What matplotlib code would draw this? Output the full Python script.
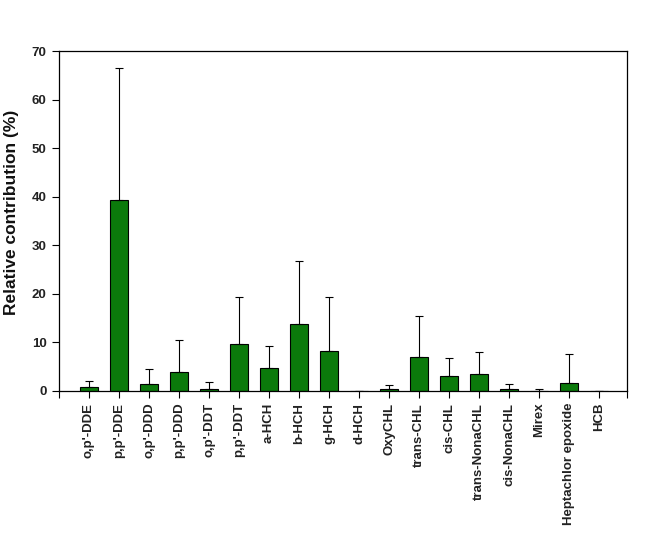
import numpy as np
import matplotlib
matplotlib.use("Agg")
import matplotlib.pyplot as plt

compounds = ["o,p'-DDE", "p,p'-DDE", "o,p'-DDD", "p,p'-DDD", "o,p'-DDT", "p,p'-DDT",
             "a-HCH", "b-HCH", "g-HCH", "d-HCH", "OxyCHL", "trans-CHL", "cis-CHL",
             "trans-NonaCHL", "cis-NonaCHL", "Mirex", "Heptachlor epoxide", "HCB"]
mean_pct = [0.8, 39.3, 1.45, 3.9, 0.35, 9.6, 4.7, 13.8, 8.2, 0.0, 0.35, 6.9, 3.1,
            3.5, 0.35, 0.05, 1.7, 0.0]
sd_pct = [1.25, 27.2, 3.05, 6.7, 1.45, 9.8, 4.6, 13.0, 11.2, 0.0, 0.8, 8.5, 3.6,
          4.5, 1.1, 0.3, 5.85, 0.0]
yticks = [0, 10, 20, 30, 40, 50, 60, 70]

plt.rcParams["font.family"] = ["Liberation Sans", "DejaVu Sans"]
fig = plt.figure(figsize=(6.54, 5.41), dpi=100)
ax = fig.add_axes([0.0902, 0.2773, 0.8685, 0.6284])

x = np.arange(len(compounds))
err = [np.zeros(len(sd_pct)), sd_pct]
ax.bar(x, mean_pct, width=0.6, color="#0b7a0b", edgecolor="black", linewidth=0.8, zorder=2)
ax.errorbar(x, mean_pct, yerr=err, fmt="none", ecolor="black", elinewidth=0.8,
            capsize=3, capthick=0.8, zorder=3)

ax.set_xlim(-1, 17.93)
ax.set_ylim(0, 70)
ax.set_yticks(yticks)
ax.set_yticklabels([str(v) for v in yticks], fontsize=9.5, fontweight="bold", color="#222222")
ax.set_xticks(x)
ax.set_xticklabels(compounds, rotation=90, fontsize=9.5, fontweight="bold", color="#222222")
ax.set_xticks([-1, 17.93], minor=True)
ax.tick_params(axis="both", which="both", direction="out", length=5, width=0.8)
ax.tick_params(axis="y", pad=4)
ax.set_ylabel("Relative contribution (%)", fontsize=12.5, fontweight="bold", color="#111111")
ax.yaxis.set_label_coords(-0.07, 0.526)

for s in ax.spines.values():
    s.set_linewidth(0.9)

fig.savefig("out.png", dpi=100)
